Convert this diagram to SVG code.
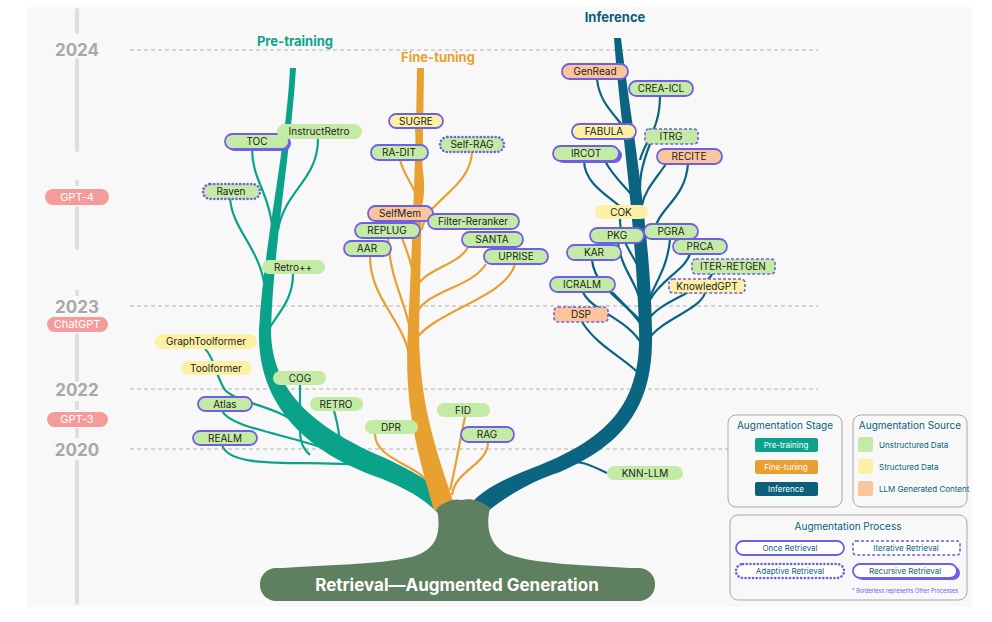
<svg xmlns="http://www.w3.org/2000/svg" width="992" height="622" viewBox="0 0 992 622">
<style>
text{font-family:Inter,"Noto Sans","Liberation Sans",sans-serif}
.n{font-size:10px;fill:#222;text-anchor:middle}
.g{fill:#c4eba5}.y{fill:#fcf0a5}.o{fill:#fbc59b}
.once{stroke:#6f5fe6;stroke-width:1.8}
.it{stroke:#6f5fe6;stroke-width:1.6;stroke-dasharray:3,2}
.ad{stroke:#6f5fe6;stroke-width:2.6;stroke-dasharray:0.1,3.6;stroke-linecap:round}
.sh{fill:#6f5fe6}
.bt{fill:none;stroke:#0aa38a;stroke-width:2.2}
.bf{fill:none;stroke:#e8a030;stroke-width:2.2}
.bi{fill:none;stroke:#0b6480;stroke-width:2.2}
.yr{font-size:17px;font-weight:bold;fill:#a8a8a8;text-anchor:middle}
.ev{font-size:11px;fill:#fff;text-anchor:middle}
.dl{stroke:#b0b0b0;stroke-width:1;stroke-dasharray:4,3}
.lt{font-size:10px;fill:#0b5f7a;text-anchor:middle}
.ls{font-size:8px;fill:#0b5f7a}
</style>
<rect x="27" y="7" width="945" height="600" fill="#f8f8f8"/>
<g id="timeline">
<line x1="77" y1="10" x2="77" y2="32" stroke="#dedede" stroke-width="4" stroke-linecap="round"/>
<line x1="77" y1="60" x2="77" y2="150" stroke="#dedede" stroke-width="4" stroke-linecap="round"/>
<line x1="77" y1="180" x2="77" y2="186" stroke="#dedede" stroke-width="4"/>
<line x1="77" y1="208" x2="77" y2="248" stroke="#dedede" stroke-width="4" stroke-linecap="round"/>
<line x1="77" y1="290" x2="77" y2="296" stroke="#dedede" stroke-width="4"/>
<line x1="77" y1="335" x2="77" y2="380" stroke="#dedede" stroke-width="4" stroke-linecap="round"/>
<line x1="77" y1="401" x2="77" y2="410" stroke="#dedede" stroke-width="4"/>
<line x1="77" y1="428" x2="77" y2="438" stroke="#dedede" stroke-width="4"/>
<line x1="77" y1="462" x2="77" y2="603" stroke="#dedede" stroke-width="4" stroke-linecap="round"/>
<text class="yr" x="77" y="56">2024</text>
<text class="yr" x="77" y="313">2023</text>
<text class="yr" x="77" y="396">2022</text>
<text class="yr" x="77" y="456">2020</text>
<rect x="45" y="189" width="64" height="16" rx="8" fill="#f49b9b"/><text class="ev" x="77" y="201">GPT-4</text>
<rect x="47" y="317" width="61" height="15" rx="7.5" fill="#f49b9b"/><text class="ev" x="77" y="328">ChatGPT</text>
<rect x="47" y="412" width="61" height="15" rx="7.5" fill="#f49b9b"/><text class="ev" x="77" y="423">GPT-3</text>
<line class="dl" x1="130" y1="50" x2="818" y2="50"/>
<line class="dl" x1="130" y1="306" x2="818" y2="306"/>
<line class="dl" x1="130" y1="389" x2="818" y2="389"/>
<line class="dl" x1="130" y1="449" x2="755" y2="449"/>
</g>
<g id="trunks">
<path d="M290,68 C286,150 263,250 259,330 C257,400 300,450 380,478 C410,490 425,500 440,515 L452,498 C430,480 400,465 385,458 C320,430 271,395 271,330 C273,250 291,150 296,68 Z" fill="#0aa38a"/>
<path d="M417,68 C416,150 412,250 408,330 C403,410 420,460 434,510 L456,510 C440,460 419,410 419,330 C421,250 423,150 424,68 Z" fill="#e8a030"/>
<path d="M614,38 C620,120 636,220 639,330 C642,410 600,440 540,465 C500,480 478,492 466,510 L484,514 C510,494 530,482 560,472 C630,442 654,400 652,330 C650,220 629,110 621,38 Z" fill="#0b6480"/>
<path d="M437,508 C441,532 438,548 415,556 C380,566 300,565 275,569 L640,569 C605,565 535,566 505,553 C488,543 486,525 490,508 C480,500 470,498 462,500 C452,498 445,502 437,508 Z" fill="#5f8060"/>
<rect x="260" y="568" width="395" height="33" rx="16" fill="#5f8060"/>
<text x="457" y="591" font-size="17" font-weight="bold" fill="#fff" text-anchor="middle">Retrieval—Augmented Generation</text>
</g>
<g id="connectors">
<path class="bt" d="M252,148 C252,180 268,190 272,225"/>
<path class="bt" d="M318,139 C318,180 285,190 278,230"/>
<path class="bt" d="M230,198 C232,230 262,250 265,290"/>
<path class="bt" d="M293,274 C293,310 265,320 262,350"/>
<path class="bt" d="M205,349 C215,358 215,375 225,390 C240,405 280,405 305,430"/>
<path class="bt" d="M300,385 L300,430 C300,445 305,450 310,455"/>
<path class="bt" d="M222,411 C232,430 300,435 350,458"/>
<path class="bt" d="M334,411 C340,430 340,450 345,462"/>
<path class="bt" d="M222,445 C230,470 300,460 360,465 C390,470 400,478 420,488"/>
<path class="bf" d="M416,128 C418,160 428,180 420,210"/>
<path class="bf" d="M400,160 C405,180 420,190 420,215"/>
<path class="bf" d="M472,152 C470,190 425,200 422,230"/>
<path class="bf" d="M402,238 C410,260 415,270 413,295"/>
<path class="bf" d="M388,238 C390,280 405,300 410,330"/>
<path class="bf" d="M370,256 C370,300 405,320 410,360"/>
<path class="bf" d="M468,247 C460,265 420,270 416,290"/>
<path class="bf" d="M486,264 C470,290 420,290 414,320"/>
<path class="bf" d="M515,264 C505,300 430,310 412,345"/>
<path class="bf" d="M465,417 C460,440 455,470 450,490"/>
<path class="bf" d="M375,434 C375,460 420,465 430,485"/>
<path class="bf" d="M488,442 C488,465 455,470 452,495"/>
<path class="bi" d="M597,79 C600,110 625,120 630,140"/>
<path class="bi" d="M660,96 C660,130 645,140 640,160"/>
<path class="bi" d="M584,161 C585,190 620,200 640,225"/>
<path class="bi" d="M605,161 C615,180 630,190 635,200"/>
<path class="bi" d="M650,144 C640,170 640,180 640,190"/>
<path class="bi" d="M688,164 C685,200 660,205 652,235"/>
<path class="bi" d="M666,164 C655,180 645,190 642,205"/>
<path class="bi" d="M620,219 C620,240 630,250 640,270"/>
<path class="bi" d="M618,243 C622,270 635,280 640,300"/>
<path class="bi" d="M670,239 C668,270 650,290 645,310"/>
<path class="bi" d="M592,260 C595,285 615,295 640,320"/>
<path class="bi" d="M690,254 C685,270 660,280 650,300"/>
<path class="bi" d="M712,274 C705,290 660,300 648,320"/>
<path class="bi" d="M705,293 C700,310 660,320 648,340"/>
<path class="bi" d="M583,292 C590,310 630,320 642,345"/>
<path class="bi" d="M612,292 C625,305 640,320 644,330"/>
<path class="bi" d="M582,322 C600,350 630,360 645,380"/>
<path class="bi" d="M607,473 C590,465 580,460 565,462"/>
</g>
<g id="headings">
<text x="295" y="46" font-size="13" font-weight="bold" fill="#0aa38a" text-anchor="middle">Pre-training</text>
<text x="438" y="62" font-size="13" font-weight="bold" fill="#e8a030" text-anchor="middle">Fine-tuning</text>
<text x="615" y="22" font-size="13" font-weight="bold" fill="#0b5f7a" text-anchor="middle">Inference</text>
</g>
<g id="TOC"><rect class="sh" x="227" y="136" width="64" height="15" rx="7.5"/><rect class="g once" x="225" y="134" width="64" height="15" rx="7.5"/><text class="n" x="257" y="145">TOC</text></g>
<g id="InstructRetro"><rect class="g" x="277" y="124" width="85" height="15" rx="7.5"/><text class="n" x="319" y="135">InstructRetro</text></g>
<g id="Raven"><rect class="g ad" x="203" y="184" width="57" height="15" rx="7.5"/><text class="n" x="231" y="195">Raven</text></g>
<g id="Retro++"><rect class="g" x="262" y="260" width="63" height="14" rx="7"/><text class="n" x="293" y="271">Retro++</text></g>
<g id="GraphToolformer"><rect class="y" x="155" y="334" width="102" height="15" rx="7.5"/><text class="n" x="206" y="345">GraphToolformer</text></g>
<g id="Toolformer"><rect class="y" x="181" y="361" width="71" height="14" rx="7"/><text class="n" x="216" y="372">Toolformer</text></g>
<g id="COG"><rect class="g" x="273" y="371" width="53" height="14" rx="7"/><text class="n" x="300" y="382">COG</text></g>
<g id="Atlas"><rect class="g once" x="198" y="397" width="54" height="14" rx="7"/><text class="n" x="225" y="408">Atlas</text></g>
<g id="RETRO"><rect class="g" x="310" y="397" width="53" height="14" rx="7"/><text class="n" x="336" y="408">RETRO</text></g>
<g id="REALM"><rect class="g once" x="193" y="431" width="64" height="14" rx="7"/><text class="n" x="225" y="442">REALM</text></g>
<g id="SUGRE"><rect class="y once" x="389" y="114" width="54" height="14" rx="7"/><text class="n" x="416" y="125">SUGRE</text></g>
<g id="Self-RAG"><rect class="g ad" x="440" y="137" width="64" height="15" rx="7.5"/><text class="n" x="472" y="148">Self-RAG</text></g>
<g id="RA-DIT"><rect class="g once" x="371" y="145" width="57" height="15" rx="7.5"/><text class="n" x="399" y="156">RA-DIT</text></g>
<g id="SelfMem"><rect class="o once" x="368" y="206" width="65" height="15" rx="7.5"/><text class="n" x="400" y="217">SelfMem</text></g>
<g id="Filter-Reranker"><rect class="g once" x="428" y="214" width="91" height="15" rx="7.5"/><text class="n" x="473" y="225">Filter-Reranker</text></g>
<g id="REPLUG"><rect class="g once" x="355" y="223" width="65" height="15" rx="7.5"/><text class="n" x="387" y="234">REPLUG</text></g>
<g id="SANTA"><rect class="g once" x="462" y="232" width="61" height="15" rx="7.5"/><text class="n" x="492" y="243">SANTA</text></g>
<g id="AAR"><rect class="g once" x="344" y="241" width="47" height="15" rx="7.5"/><text class="n" x="367" y="252">AAR</text></g>
<g id="UPRISE"><rect class="g once" x="484" y="249" width="64" height="15" rx="7.5"/><text class="n" x="516" y="260">UPRISE</text></g>
<g id="FID"><rect class="g" x="437" y="403" width="53" height="14" rx="7"/><text class="n" x="463" y="414">FID</text></g>
<g id="DPR"><rect class="g" x="365" y="420" width="53" height="14" rx="7"/><text class="n" x="391" y="431">DPR</text></g>
<g id="RAG"><rect class="g once" x="461" y="427" width="53" height="15" rx="7.5"/><text class="n" x="487" y="438">RAG</text></g>
<g id="GenRead"><rect class="o once" x="562" y="64" width="66" height="15" rx="7.5"/><text class="n" x="595" y="75">GenRead</text></g>
<g id="CREA-ICL"><rect class="g once" x="629" y="81" width="64" height="15" rx="7.5"/><text class="n" x="661" y="92">CREA-ICL</text></g>
<g id="FABULA"><rect class="y once" x="572" y="124" width="64" height="15" rx="7.5"/><text class="n" x="604" y="135">FABULA</text></g>
<g id="ITRG"><rect class="g it" x="645" y="129" width="53" height="15" rx="4"/><text class="n" x="671" y="140">ITRG</text></g>
<g id="IRCOT"><rect class="sh" x="556" y="148" width="66" height="15" rx="7.5"/><rect class="g once" x="553" y="146" width="66" height="15" rx="7.5"/><text class="n" x="586" y="157">IRCOT</text></g>
<g id="RECITE"><rect class="o once" x="657" y="149" width="65" height="15" rx="7.5"/><text class="n" x="689" y="160">RECITE</text></g>
<g id="COK"><rect class="y" x="595" y="205" width="53" height="14" rx="7"/><text class="n" x="621" y="216">COK</text></g>
<g id="PKG"><rect class="g once" x="590" y="228" width="54" height="15" rx="7.5"/><text class="n" x="617" y="239">PKG</text></g>
<g id="PGRA"><rect class="g once" x="644" y="224" width="54" height="15" rx="7.5"/><text class="n" x="671" y="235">PGRA</text></g>
<g id="KAR"><rect class="g once" x="567" y="245" width="54" height="15" rx="7.5"/><text class="n" x="594" y="256">KAR</text></g>
<g id="PRCA"><rect class="g once" x="673" y="239" width="54" height="15" rx="7.5"/><text class="n" x="700" y="250">PRCA</text></g>
<g id="ITER-RETGEN"><rect class="g it" x="692" y="259" width="83" height="15" rx="4"/><text class="n" x="733" y="270">ITER-RETGEN</text></g>
<g id="ICRALM"><rect class="g once" x="550" y="277" width="65" height="15" rx="7.5"/><text class="n" x="582" y="288">ICRALM</text></g>
<g id="KnowledGPT"><rect class="y it" x="669" y="279" width="76" height="14" rx="4"/><text class="n" x="707" y="290">KnowledGPT</text></g>
<g id="DSP"><rect class="o it" x="554" y="307" width="54" height="15" rx="4"/><text class="n" x="581" y="318">DSP</text></g>
<g id="KNN-LLM"><rect class="g" x="607" y="466" width="76" height="14" rx="7"/><text class="n" x="645" y="477">KNN-LLM</text></g>
<g id="legend">
<rect x="728" y="415" width="114" height="92" rx="8" fill="#f8f8f8" stroke="#a8a8a8"/>
<text class="lt" x="785" y="429">Augmentation Stage</text>
<rect x="755" y="438" width="63" height="14" rx="2" fill="#0aa38a"/><text x="786" y="448" font-size="8" fill="#fff" text-anchor="middle">Pre-training</text>
<rect x="755" y="460" width="63" height="14" rx="2" fill="#e8a030"/><text x="786" y="470" font-size="8" fill="#fff" text-anchor="middle">Fine-tuning</text>
<rect x="755" y="482" width="63" height="14" rx="2" fill="#0b5f7a"/><text x="786" y="492" font-size="8" fill="#fff" text-anchor="middle">Inference</text>
<rect x="853" y="415" width="114" height="92" rx="8" fill="#f8f8f8" stroke="#a8a8a8"/>
<text class="lt" x="910" y="429">Augmentation Source</text>
<rect x="858" y="437" width="15" height="15" rx="2" class="g"/><text class="ls" x="879" y="448">Unstructured Data</text>
<rect x="858" y="459" width="15" height="15" rx="2" class="y"/><text class="ls" x="879" y="470">Structured Data</text>
<rect x="858" y="481" width="15" height="15" rx="2" class="o"/><text class="ls" x="879" y="492">LLM Generated Content</text>
<rect x="730" y="515" width="237" height="85" rx="8" fill="#f8f8f8" stroke="#a8a8a8"/>
<text class="lt" x="848" y="530">Augmentation Process</text>
<rect x="736" y="541" width="108" height="14" rx="7" fill="#fff" class="once"/><text class="ls" x="790" y="551" text-anchor="middle">Once Retrieval</text>
<rect x="853" y="541" width="107" height="14" rx="3" fill="#fff" class="it"/><text class="ls" x="906" y="551" text-anchor="middle">Iterative Retrieval</text>
<rect x="736" y="564" width="108" height="14" rx="7" fill="#fff" class="ad"/><text class="ls" x="790" y="574" text-anchor="middle">Adaptive Retrieval</text>
<rect x="856" y="566" width="104" height="14" rx="7" class="sh"/><rect x="853" y="564" width="104" height="14" rx="7" fill="#fff" class="once"/><text class="ls" x="905" y="574" text-anchor="middle">Recursive Retrieval</text>
<text x="905" y="593" font-size="5.5" fill="#6f5fe6" text-anchor="middle">* Borderless represents Other Processes</text>
</g>
</svg>
